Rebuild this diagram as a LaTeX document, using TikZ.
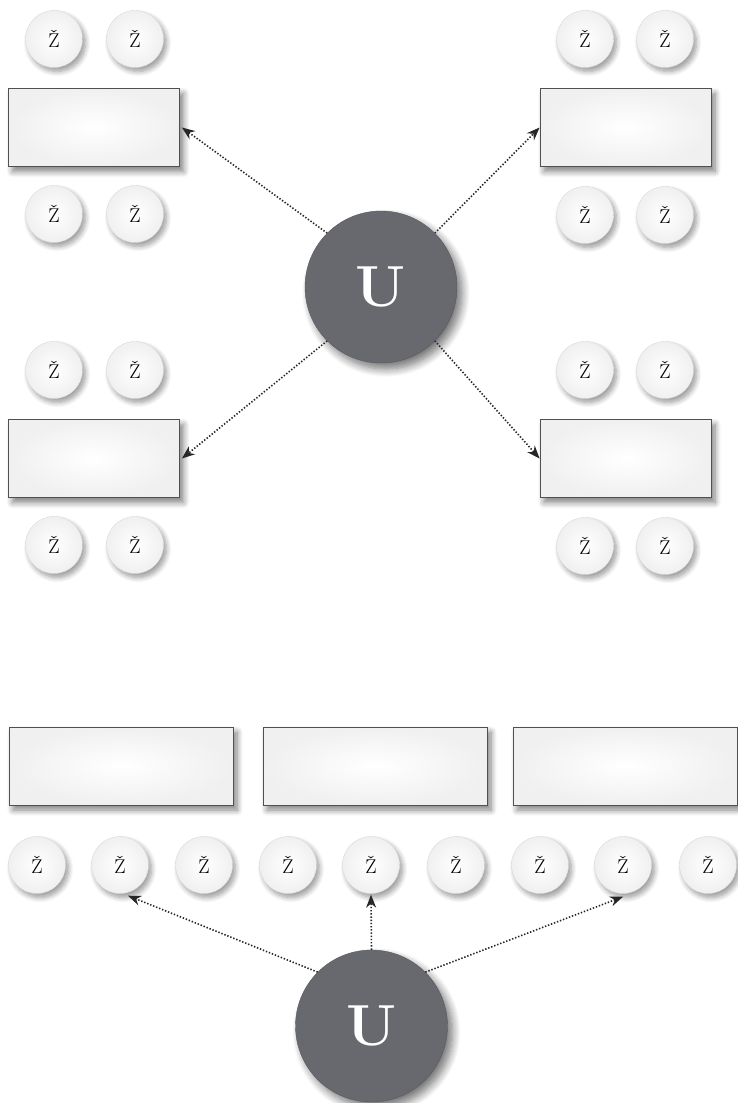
\documentclass[tikz,border=0pt]{standalone}
\usetikzlibrary{shadows.blur,arrows.meta}
\definecolor{ucol}{RGB}{104,105,110}
\definecolor{edgecol}{RGB}{80,80,82}
\tikzset{
  chair/.style={circle, minimum size=57pt, inner sep=0pt, draw=gray!30, line width=0.4pt,
    inner color=white, outer color=gray!12,
    blur shadow={shadow xshift=3pt, shadow yshift=-4pt, shadow blur steps=8, shadow opacity=40, shadow blur radius=5pt},
    font=\fontsize{20}{22}\selectfont},
  tablebox/.style={rectangle, inner sep=0pt, draw=edgecol, line width=0.8pt,
    inner color=white, outer color=gray!12,
    blur shadow={shadow xshift=4pt, shadow yshift=-5pt, shadow blur steps=8, shadow opacity=50, shadow blur radius=6pt}},
  shorttab/.style={tablebox, minimum width=171pt, minimum height=78pt},
  longtab/.style={tablebox, minimum width=224pt, minimum height=78pt},
  ucirc/.style={circle, minimum size=152pt, inner sep=0pt, fill=ucol, draw=ucol!85!black, line width=0.4pt,
    blur shadow={shadow xshift=5pt, shadow yshift=-6pt, shadow blur steps=10, shadow opacity=55, shadow blur radius=8pt},
    text=white, font=\fontsize{58}{60}\selectfont\bfseries},
  link/.style={line width=1.6pt, dash pattern=on 1.4pt off 1.8pt, black!85, -{Stealth[length=13pt,width=10pt]}}
}
\begin{document}
\begin{tikzpicture}[x=1pt,y=-1pt]
\useasboundingbox (0,0) rectangle (738,1103);
% top section tables
\node[shorttab] (tl) at (94,127.5) {};
\node[shorttab] (tr) at (625.5,127.5) {};
\node[shorttab] (ml) at (94,458.5) {};
\node[shorttab] (mr) at (625.5,458.5) {};
% chairs top section
\foreach \n/\x/\y in {a1/54/39, a2/135/39, a3/54/214, a4/135/214,
                      b1/585/39, b2/665/39, b3/585/215, b4/665/215,
                      c1/54/370, c2/135/370, c3/54/545, c4/135/545,
                      d1/585/370, d2/665/370, d3/585/546, d4/665/546}
  \node[chair] (\n) at (\x,\y) {Ž};
\node[ucirc] (u1) at (381,287) {U};
\draw[link] (u1.north west) -- ([xshift=2pt]tl.east);
\draw[link] (u1.north east) -- (tr.west);
\draw[link] (u1.south west) -- ([xshift=2pt]ml.east);
\draw[link] (u1.south east) -- (mr.west);
% bottom section
\node[longtab] (t1) at (121,766) {};
\node[longtab] (t2) at (375,766) {};
\node[longtab] (t3) at (625,766) {};
\foreach \i/\x in {1/37, 2/120, 3/204, 4/288, 5/371, 6/456, 7/540, 8/623, 9/708}
  \node[chair] (s\i) at (\x,865) {Ž};
\node[ucirc] (u2) at (371.5,1026) {U};
\draw[link] (u2.north west) -- ([xshift=8pt,yshift=-2pt]s2.south);
\draw[link] (u2.north) -- ([yshift=-1pt]s5.south);
\draw[link] (u2.north east) -- ([yshift=-3pt]s8.south);
\end{tikzpicture}
\end{document}
